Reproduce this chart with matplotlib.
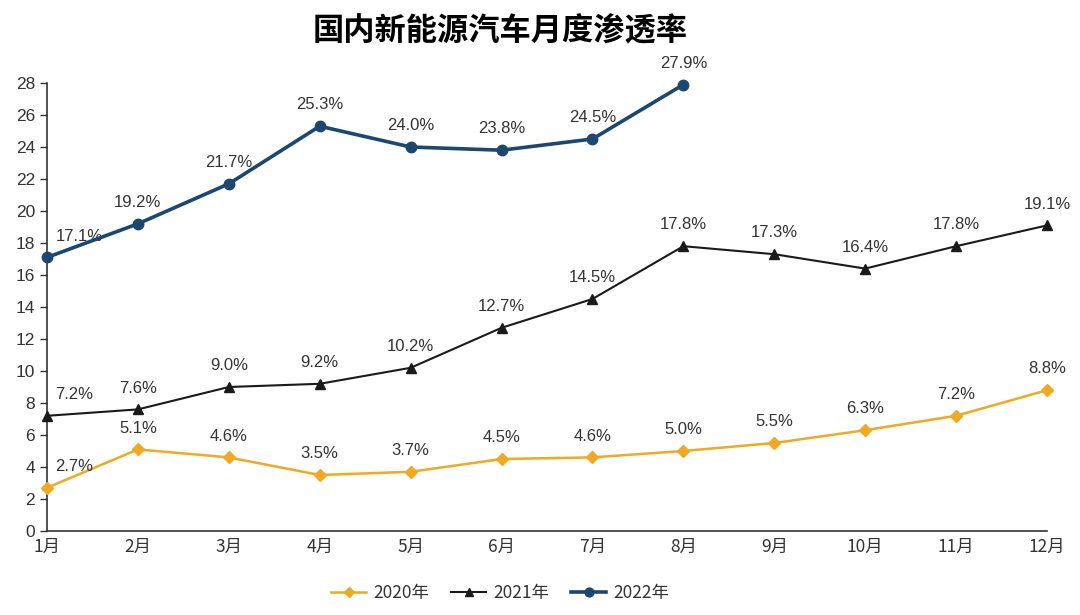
import matplotlib
matplotlib.use("Agg")
import matplotlib.pyplot as plt

plt.rcParams['font.family'] = ['Liberation Sans', 'Noto Sans CJK SC', 'DejaVu Sans']

months = ['1月', '2月', '3月', '4月', '5月', '6月', '7月', '8月', '9月', '10月', '11月', '12月']
s2020 = [2.7, 5.1, 4.6, 3.5, 3.7, 4.5, 4.6, 5.0, 5.5, 6.3, 7.2, 8.8]
s2021 = [7.2, 7.6, 9.0, 9.2, 10.2, 12.7, 14.5, 17.8, 17.3, 16.4, 17.8, 19.1]
s2022 = [17.1, 19.2, 21.7, 25.3, 24.0, 23.8, 24.5, 27.9]
yticks = list(range(0, 29, 2))

fig = plt.figure(figsize=(10.8, 6.15), dpi=100)
ax = fig.add_axes([47/1080, 84/615, 1000/1080, 448/615])

x = list(range(len(months)))
c20, c21, c22 = '#F0A922', '#1a1a1a', '#1B4770'
ax.plot(x, s2020, color=c20, lw=1.8, marker='D', ms=6, label='2020年', zorder=3)
ax.plot(x, s2021, color=c21, lw=1.5, marker='^', ms=7, label='2021年', zorder=3)
ax.plot(x[:len(s2022)], s2022, color=c22, lw=2.6, marker='o', ms=7.5, label='2022年', zorder=4)

lab_kw = dict(fontsize=12, color='#333333', family=['Liberation Sans Narrow', 'Liberation Sans', 'DejaVu Sans'])
for series in (s2020, s2021, s2022):
    for i, v in enumerate(series):
        if i == 0:
            ax.annotate(f'{v:.1f}%', (i, v), xytext=(6, 10), textcoords='offset points',
                        ha='left', va='bottom', **lab_kw)
        else:
            ax.annotate(f'{v:.1f}%', (i, v), xytext=(0, 10), textcoords='offset points',
                        ha='center', va='bottom', **lab_kw)

ax.set_xlim(0, 11)
ax.set_ylim(0, 28)
ax.set_yticks(yticks)
ax.set_xticks(x)
ax.set_xticklabels(months, family=['Noto Sans CJK SC', 'DejaVu Sans'])
ax.tick_params(axis='both', labelsize=12.5, colors='#333333', length=5, width=1, direction='out')
ax.tick_params(axis='x', length=0, pad=5)
for s in ('top', 'right'):
    ax.spines[s].set_visible(False)
for s in ('left', 'bottom'):
    ax.spines[s].set_color('#333333')
    ax.spines[s].set_linewidth(1.2)
for ln in ax.lines:
    ln.set_clip_on(False)

fig.suptitle('国内新能源汽车月度渗透率', x=0.463, y=0.975, fontsize=22.5, fontweight='bold',
             family=['Noto Sans CJK SC', 'DejaVu Sans'], va='top')

leg = fig.legend(loc='lower center', bbox_to_anchor=(0.463, -0.005), ncol=3, frameon=False,
                 prop={'family': ['Noto Sans CJK SC', 'DejaVu Sans'], 'size': 12.5},
                 handlelength=2.0, columnspacing=1.3, handletextpad=0.4, markerscale=0.85)
for t in leg.get_texts():
    t.set_color('#333333')

fig.savefig('out.png', dpi=100)
